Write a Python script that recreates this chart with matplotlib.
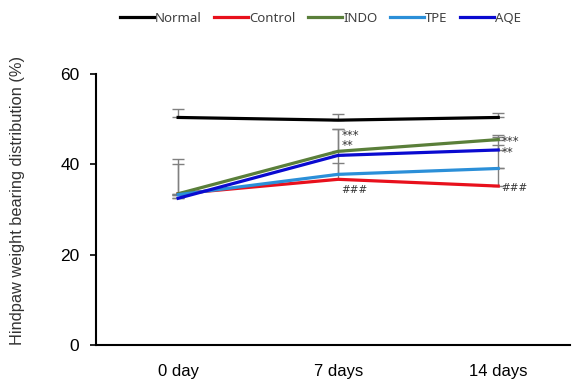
import numpy as np
import matplotlib.pyplot as plt

# Data
days = ['0 day', '7 days', '14 days']
groups = ['Normal', 'Control', 'INDO', 'TPE', 'AQE']
colors = ['#000000', '#e8101c', '#5a7f3a', '#2b8fd8', '#0a0ad0']

normal = [50.4, 49.8, 50.4]
control = [33.5, 36.7, 35.2]
indo = [33.5, 42.9, 45.5]
tpe = [33.3, 37.8, 39.1]
aqe = [32.5, 42.0, 43.2]

normal_err = [1.8, 1.3, 1.0]
control_err = [7.6, 11.1, 10.8]
indo_err = [6.6, 4.9, 1.0]
tpe_err = [0.0, 2.5, 0.0]
aqe_err = [0.0, 0.0, 1.1]

values = [normal, control, indo, tpe, aqe]
errors = [normal_err, control_err, indo_err, tpe_err, aqe_err]

plt.rcParams['font.family'] = ['Liberation Sans', 'DejaVu Sans']

fig = plt.figure(figsize=(5.72, 3.80), dpi=100)
ax = fig.add_axes([0.168, 0.092, 0.829, 0.713])
x = np.arange(len(days))

# error bars (upper only, grey)
for vals, err in zip(values, errors):
    err = np.array(err)
    ax.errorbar(x, vals, yerr=[np.zeros_like(err), err], fmt='none',
                ecolor='#808080', elinewidth=1, capsize=4, capthick=1, zorder=1)

for name, vals, c in zip(groups, values, colors):
    ax.plot(x, vals, color=c, lw=2.3, label=name, zorder=3)

# significance marks
stars = [(1, 45.3, '***\n**'), (2, 43.9, '***\n**')]
hashes = [(1, 34.3, '###'), (2, 34.8, '###')]
for xi, yi, s in stars:
    ax.text(xi + 0.02, yi, s, fontsize=8.5, color='#333333', linespacing=0.75,
            va='center', ha='left', family='DejaVu Sans')
for xi, yi, s in hashes:
    ax.text(xi + 0.02, yi, s, fontsize=7.5, color='#333333',
            va='center', ha='left', family='DejaVu Sans')

ax.set_xlim(-0.5125, 2.45)
ax.set_ylim(0, 60)
ax.set_yticks([0, 20, 40, 60])
ax.set_xticks(x)
ax.set_xticklabels(days, fontsize=12)
ax.tick_params(axis='x', length=0, pad=14)
ax.tick_params(axis='y', labelsize=12.5, length=4, width=1.2, direction='out', pad=8)
ax.set_ylabel('Hindpaw weight bearing distribution (%)', fontsize=11.8, color='#333333')
ax.yaxis.set_label_coords(-0.15, 0.535)
for side in ['top', 'right']:
    ax.spines[side].set_visible(False)
for side in ['left', 'bottom']:
    ax.spines[side].set_linewidth(1.5)

fig.legend(loc='upper center', bbox_to_anchor=(0.56, 1.0), ncol=5, frameon=False,
           handlelength=2.6, handletextpad=0.1, columnspacing=0.9,
           labelcolor='#404040', prop={'family': ['Noto Sans', 'DejaVu Sans'], 'size': 9.5})

fig.savefig('out.png', dpi=100)
